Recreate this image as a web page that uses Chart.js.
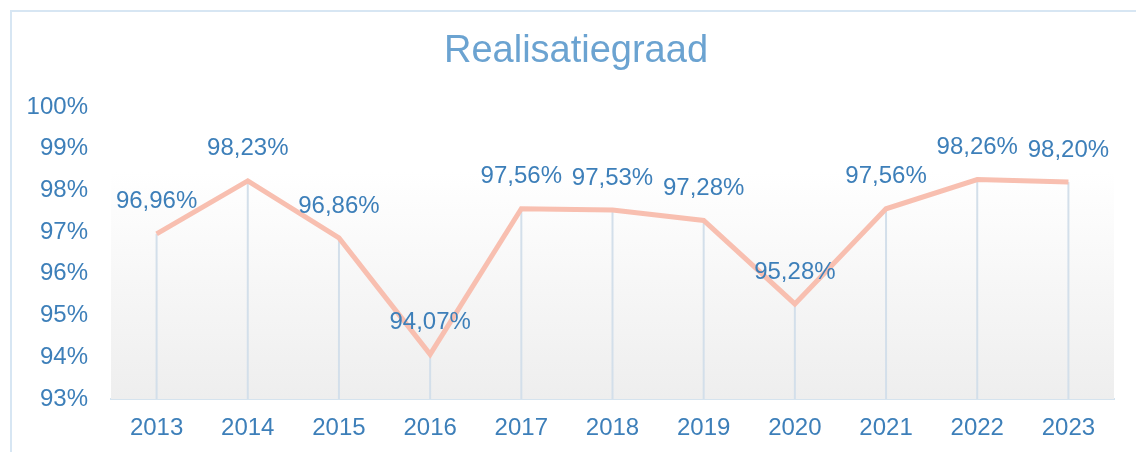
<!DOCTYPE html>
<html>
<head>
<meta charset="utf-8">
<script src="https://cdn.jsdelivr.net/npm/chart.js@4"></script>
<style>
  html, body { margin: 0; padding: 0; background: #fff; }
  #wrap { position: relative; width: 1136px; height: 452px; overflow: hidden; }
  #frame { position: absolute; left: 10px; top: 10px; width: 1140px; height: 460px;
           border-top: 2px solid #d7e6f3; border-left: 2px solid #d7e6f3; box-sizing: border-box; }
  canvas { position: absolute; left: 0; top: 0; }
</style>
</head>
<body>
<div id="wrap">
  <div id="frame"></div>
  <canvas id="grafico" width="1136" height="452"></canvas>
</div>
<script>
const jaren = ["2013","2014","2015","2016","2017","2018","2019","2020","2021","2022","2023"];
const realisatie = [96.96, 98.23, 96.86, 94.07, 97.56, 97.53, 97.28, 95.28, 97.56, 98.26, 98.20];
const yMin = 93;
const yMax = 100;
const titel = "Realisatiegraad";

const blauw = "#3d7fb9";
const fontNaam = "'Liberation Sans', Arial, sans-serif";

function procent(v) {
  return v.toFixed(2).replace(".", ",") + "%";
}

// achtergrond met verloop, loodlijnen, waardelabels en titel
const achtergrondPlugin = {
  id: "achtergrond",
  beforeDatasetsDraw(chart) {
    const { ctx, chartArea } = chart;
    const top = chartArea.top + 65;
    const grad = ctx.createLinearGradient(0, top, 0, chartArea.bottom);
    grad.addColorStop(0, "#ffffff");
    grad.addColorStop(1, "#eeeeee");
    ctx.save();
    ctx.fillStyle = grad;
    ctx.fillRect(chartArea.left, top, chartArea.right - chartArea.left, chartArea.bottom - top);

    ctx.strokeStyle = "#d3dfea";
    ctx.lineWidth = 2;
    const meta = chart.getDatasetMeta(0);
    meta.data.forEach((p) => {
      ctx.beginPath();
      ctx.moveTo(p.x, p.y);
      ctx.lineTo(p.x, chartArea.bottom);
      ctx.stroke();
    });
    ctx.restore();
  },
  afterDatasetsDraw(chart) {
    const { ctx } = chart;
    const meta = chart.getDatasetMeta(0);
    ctx.save();
    ctx.font = "24px " + fontNaam;
    ctx.fillStyle = blauw;
    ctx.textAlign = "center";
    ctx.textBaseline = "middle";
    meta.data.forEach((p, i) => {
      ctx.fillText(procent(realisatie[i]), p.x, p.y - 32);
    });

    ctx.font = "38px " + fontNaam;
    ctx.fillStyle = "#6ba3d1";
    ctx.fillText(titel, 576, 52);
    ctx.restore();
  }
};

const ctx = document.getElementById("grafico").getContext("2d");
new Chart(ctx, {
  type: "line",
  data: {
    labels: jaren,
    datasets: [{
      label: titel,
      data: realisatie,
      borderColor: "#f8bfb0",
      borderWidth: 5,
      pointRadius: 0,
      tension: 0,
      fill: false
    }]
  },
  options: {
    responsive: false,
    animation: false,
    layout: { padding: { left: 0, right: 22, top: 107, bottom: 0 } },
    plugins: {
      legend: { display: false },
      tooltip: { enabled: false },
      title: { display: false }
    },
    scales: {
      x: {
        offset: true,
        grid: { display: false, drawTicks: false },
        border: { display: true, color: "#d5e3ee", width: 2 },
        ticks: { color: blauw, font: { family: fontNaam, size: 24 }, padding: 15, maxRotation: 0 },
        afterFit(scale) { scale.height = 53; }
      },
      y: {
        min: yMin,
        max: yMax,
        grid: { display: false, drawTicks: false },
        border: { display: false },
        ticks: {
          stepSize: 1,
          color: blauw,
          padding: 23,
          font: { family: fontNaam, size: 24 },
          callback: (v) => v + "%"
        },
        afterFit(scale) { scale.width = 111; }
      }
    }
  },
  plugins: [achtergrondPlugin]
});
</script>
</body>
</html>
